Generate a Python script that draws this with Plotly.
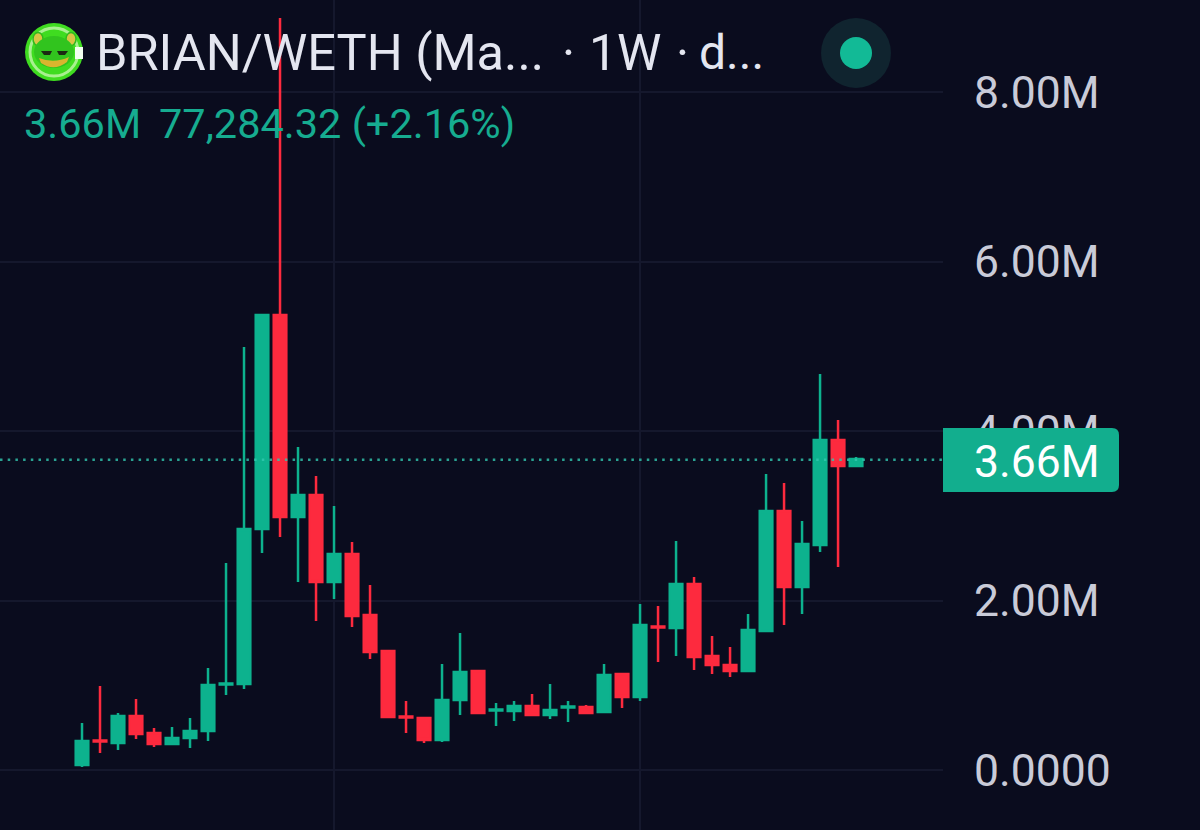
import plotly.graph_objects as go

weeks = list(range(44))
opens = [.059,.348,.319,.637,.437,.307,.378,.460,1.009,1.015,2.844,5.369,2.985,3.245,2.218,2.549,1.829,1.404,.631,.614,.354,.826,1.168,.702,.696,.755,.649,.738,.743,.684,1.133,.861,1.693,1.676,2.195,1.345,1.239,1.168,1.640,3.056,2.159,2.655,3.894,3.587]
highs = [.555,.991,.673,.838,.496,.507,.614,1.204,2.443,4.991,5.369,8.873,3.811,3.469,3.115,2.690,2.183,1.404,.814,.625,1.251,1.617,1.180,.791,.814,.897,1.015,.814,.767,1.251,1.145,1.959,1.935,2.702,2.277,1.581,1.451,1.841,3.493,3.386,2.938,4.673,4.130,3.693]
lows = [.035,.201,.236,.366,.271,.295,.260,.342,.885,.956,2.561,2.749,2.218,1.758,2.018,1.687,1.310,.614,.437,.319,.330,.649,.673,.519,.578,.637,.602,.566,.661,.684,.732,.814,1.274,1.345,1.180,1.133,1.097,1.168,1.640,1.711,1.841,2.572,2.395,3.587]
closes = [.342,.336,.637,.425,.307,.378,.460,1.003,1.021,2.844,5.369,2.985,3.245,2.218,2.549,1.817,1.392,.625,.619,.354,.826,1.156,.673,.714,.755,.649,.708,.749,.673,1.121,.861,1.711,1.681,2.195,1.333,1.239,1.168,1.652,3.056,2.159,2.667,3.894,3.587,3.670]
tick_values = [0, 2, 4, 6, 8]
tick_labels = ["0.0000", "2.00M", "4.00M", "6.00M", "8.00M"]
grid_weeks = [14, 31]
last_price = 3.66

BG = "#0A0C1E"
GREEN = "#0DB28E"
RED = "#FD2A3E"
GRID = "#15182D"
W, H, PW = 1200, 830, 943

def px(x):
    return x / PW

def py(y):
    return 1 - y / H

def pt(x, y):
    return f"{px(x):.5f},{py(y):.5f}"

def ell(cx, cy, rx, ry, fill, line=None, lw=0):
    return dict(type="circle", xref="paper", yref="paper",
                x0=px(cx - rx), x1=px(cx + rx), y0=py(cy + ry), y1=py(cy - ry),
                fillcolor=fill, line=dict(color=line or fill, width=lw))

def path(d, fill, line=None, lw=0):
    return dict(type="path", xref="paper", yref="paper", path=d,
                fillcolor=fill, line=dict(color=line or fill, width=lw))

def text(x, y, s, size, color, anchor="left"):
    return dict(xref="paper", yref="paper", x=px(x), y=py(y), text=s, showarrow=False,
                xanchor=anchor, yanchor="middle",
                font=dict(family="Roboto", size=size, color=color))

fig = go.Figure(go.Candlestick(
    x=weeks, open=opens, high=highs, low=lows, close=closes, whiskerwidth=0,
    increasing=dict(line=dict(color=GREEN, width=2.5), fillcolor=GREEN),
    decreasing=dict(line=dict(color=RED, width=2.5), fillcolor=RED),
    showlegend=False, hoverinfo="skip"))

shapes = [
    dict(type="line", xref="paper", yref="y", x0=0, x1=1, y0=last_price, y1=last_price,
         line=dict(color="rgba(50,200,175,0.8)", width=2.5, dash="2.5px,5.2px")),
    path(f"M {pt(943,428)} L {pt(1112,428)} Q {pt(1119,428)} {pt(1119,435)} L {pt(1119,485)} "
         f"Q {pt(1119,492)} {pt(1112,492)} L {pt(943,492)} Z", "#12AE8E"),
    ell(856, 53, 35, 35, "#10242F"),
    ell(856, 53, 16, 16, "#12BA96"),
    # logo
    ell(54, 52, 29, 29, "#3FDC20"),
    ell(54, 52, 24, 24, "rgba(0,0,0,0)", "#A8F090", 3),
    path(f"M {pt(75,47)} L {pt(83,47)} L {pt(83,59)} L {pt(75,59)} Z", "#F2FFF0"),
    ell(38, 39, 5, 6.5, "#D8C544", "#2FB81E", 1.5),
    ell(71, 39, 5, 6.5, "#D8C544", "#2FB81E", 1.5),
    ell(54, 52, 20, 16, "#31C41E"),
    path(f"M {pt(41,51)} L {pt(52,51)} L {pt(50,55)} L {pt(44,55)} Z", "#1B2A12"),
    path(f"M {pt(57,51)} L {pt(68,51)} L {pt(65,55)} L {pt(59,55)} Z", "#1B2A12"),
    path(f"M {pt(39,58)} Q {pt(54,64)} {pt(69,57)} L {pt(67,62)} Q {pt(54,72)} {pt(41,63)} Z", "#D9B52E"),
]

annotations = [
    text(94, 53, "BRIAN/WETH (Ma...", 50.5, "#E4E6F0"),
    text(587, 53, "1W", 50, "#E4E6F0"),
    text(568, 53, "·", 50, "#E4E6F0", "center"),
    text(682, 53, "·", 50, "#E4E6F0", "center"),
    text(697, 53, "d...", 48, "#E4E6F0"),
    text(22, 123, "3.66M", 41.5, "#16AC90"),
    text(157, 123, "77,284.32 (+2.16%)", 41.5, "#16AC90"),
    text(1037, 462, "3.66M", 44.5, "#FFFFFF", "center"),
]

fig.update_layout(
    width=W, height=H, margin=dict(l=0, r=W - PW, t=0, b=0, pad=0),
    paper_bgcolor=BG, plot_bgcolor=BG, showlegend=False, boxgap=0.30, boxgroupgap=0,
    shapes=shapes, annotations=annotations,
    xaxis=dict(range=[-4.556, 47.83], tickvals=grid_weeks, showticklabels=False, ticks="",
               showgrid=True, gridcolor=GRID, gridwidth=1.5, zeroline=False,
               rangeslider=dict(visible=False), showline=False),
    yaxis=dict(range=[-0.708, 9.086], side="right", tickvals=tick_values, ticktext=tick_labels,
               ticks="", ticklabelstandoff=30, showgrid=True, gridcolor=GRID, gridwidth=1.5,
               zeroline=False, showline=False,
               tickfont=dict(family="Roboto", size=44.5, color="#C9CBD8")),
)

fig.write_html("out.html", config=dict(displayModeBar=False),
               post_script="document.body.style.margin='0';document.body.style.overflow='hidden';document.body.style.background='#0A0C1E';")
